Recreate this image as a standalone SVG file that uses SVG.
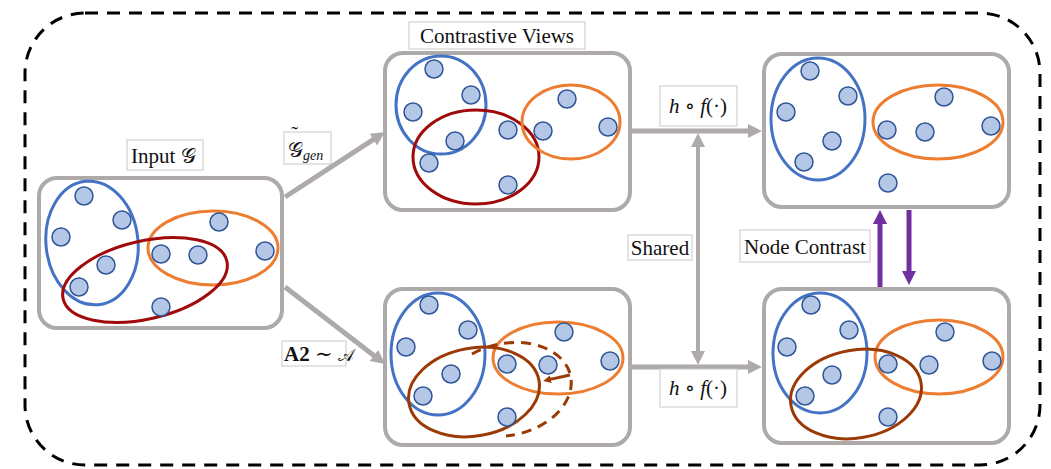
<svg xmlns="http://www.w3.org/2000/svg" width="1051" height="469" viewBox="0 0 1051 469">
  <style>
    .frame { fill: none; stroke: #000; stroke-width: 3; stroke-dasharray: 13 9; }
    .box { fill: #fff; stroke: #AEAAAA; stroke-width: 4; }
    .nd { fill: #B4C7E7; stroke: #2F5597; stroke-width: 1.5; }
    .blue { fill: none; stroke: #4472C4; stroke-width: 3; }
    .orange { fill: none; stroke: #ED7D31; stroke-width: 3; }
    .red { fill: none; stroke: #A00A0A; stroke-width: 3; }
    .brown { fill: none; stroke: #9C3A06; stroke-width: 3; }
    .lbl { fill: #fff; stroke: #C8C8C8; stroke-width: 1; }
    .t { font-family: "Liberation Serif", "DejaVu Serif", serif; font-size: 21px; fill: #111; }
    .it { font-style: italic; }
    .scr { font-family: "DejaVu Serif", "Noto Sans", serif; }
    .gray { stroke: #AEAAAA; stroke-width: 5; fill: none; }
    .purple { stroke: #7030A0; stroke-width: 5; fill: none; }
  </style>
  <defs>
    <marker id="headGray" markerUnits="userSpaceOnUse" markerWidth="16" markerHeight="16" refX="4" refY="7" orient="auto-start-reverse">
      <path d="M0,0 L14,7 L0,14 z" fill="#AEAAAA"/>
    </marker>
    <marker id="headPurple" markerUnits="userSpaceOnUse" markerWidth="16" markerHeight="16" refX="4" refY="7" orient="auto">
      <path d="M0,0 L14,7 L0,14 z" fill="#7030A0"/>
    </marker>
    <marker id="headBrown" markerUnits="userSpaceOnUse" markerWidth="10" markerHeight="10" refX="2" refY="4" orient="auto">
      <path d="M0,0 L8,4 L0,8 z" fill="#9C3A06"/>
    </marker>
  </defs>

  <!-- dashed outer frame -->
  <rect class="frame" x="25" y="13" width="1015" height="452" rx="60" ry="60"/>

  <!-- connectors -->
  <g id="connectors">
    <line class="gray" x1="285" y1="197" x2="376.6" y2="137.4" marker-end="url(#headGray)"/>
    <line class="gray" x1="285" y1="287" x2="377.1" y2="357.9" marker-end="url(#headGray)"/>
    <line class="gray" x1="630" y1="131" x2="752" y2="131" marker-end="url(#headGray)"/>
    <line class="gray" x1="630" y1="367" x2="752" y2="367" marker-end="url(#headGray)"/>
    <line class="gray" style="stroke-width:4" x1="698" y1="143" x2="698" y2="355" marker-start="url(#headGray)" marker-end="url(#headGray)"/>
    <line class="purple" x1="880" y1="288" x2="880" y2="220" marker-end="url(#headPurple)"/>
    <line class="purple" x1="909" y1="210" x2="909" y2="275" marker-end="url(#headPurple)"/>
  </g>

  <!-- input graph -->
  <g id="input">
    <rect class="box" x="39" y="178" width="243" height="150" rx="18"/>
    <ellipse class="blue" cx="92" cy="243" rx="46" ry="62" transform="rotate(-6 92 243)"/>
    <ellipse class="orange" cx="213" cy="248" rx="65" ry="37"/>
    <ellipse class="red" cx="145" cy="280" rx="84" ry="39" transform="rotate(-13 145 280)"/>
    <circle class="nd" cx="84" cy="196" r="9"/>
    <circle class="nd" cx="122" cy="220" r="9"/>
    <circle class="nd" cx="61" cy="237" r="9"/>
    <circle class="nd" cx="106" cy="265" r="9"/>
    <circle class="nd" cx="79" cy="287" r="9"/>
    <circle class="nd" cx="161" cy="254" r="9"/>
    <circle class="nd" cx="198" cy="255" r="9"/>
    <circle class="nd" cx="219" cy="222" r="9"/>
    <circle class="nd" cx="265" cy="251" r="9"/>
    <circle class="nd" cx="161" cy="307" r="9"/>
  </g>

  <!-- augmented view (generator) -->
  <g id="view-gen">
    <rect class="box" x="385" y="53" width="245" height="157" rx="18"/>
    <ellipse class="blue" cx="441" cy="105" rx="45" ry="49"/>
    <ellipse class="red" cx="476" cy="157" rx="63" ry="47"/>
    <ellipse class="orange" cx="571" cy="122" rx="49" ry="37"/>
    <circle class="nd" cx="434" cy="69" r="9"/>
    <circle class="nd" cx="471" cy="95" r="9"/>
    <circle class="nd" cx="413" cy="112" r="9"/>
    <circle class="nd" cx="455" cy="141" r="9"/>
    <circle class="nd" cx="429" cy="163" r="9"/>
    <circle class="nd" cx="508" cy="130" r="9"/>
    <circle class="nd" cx="508" cy="185" r="9"/>
    <circle class="nd" cx="543" cy="131" r="9"/>
    <circle class="nd" cx="567" cy="99" r="9"/>
    <circle class="nd" cx="608" cy="127" r="9"/>
  </g>

  <!-- augmented view (sampled) -->
  <g id="view-sampled">
    <rect class="box" x="385" y="289" width="245" height="156" rx="18"/>
    <ellipse class="blue" cx="438" cy="354" rx="47" ry="61"/>
    <ellipse class="orange" cx="558" cy="358" rx="65" ry="36"/>
    <ellipse class="brown" cx="474" cy="392" rx="66" ry="44" transform="rotate(-10 474 392)"/>
    <path class="brown" d="M472,354 A65 46 -12 1 1 506,436" stroke-dasharray="10 7"/>
    <line class="brown" x1="570" y1="375" x2="549" y2="379.6" stroke-width="2.5" marker-end="url(#headBrown)"/>
    <circle class="nd" cx="429" cy="305" r="9"/>
    <circle class="nd" cx="468" cy="330" r="9"/>
    <circle class="nd" cx="406" cy="347" r="9"/>
    <circle class="nd" cx="451" cy="374" r="9"/>
    <circle class="nd" cx="423" cy="396" r="9"/>
    <circle class="nd" cx="507" cy="364" r="9"/>
    <circle class="nd" cx="548" cy="365" r="9"/>
    <circle class="nd" cx="564" cy="332" r="9"/>
    <circle class="nd" cx="610" cy="361" r="9"/>
    <circle class="nd" cx="507" cy="417" r="9"/>
  </g>

  <!-- encoded view (top) -->
  <g id="embed-top">
    <rect class="box" x="764" y="54" width="245" height="153" rx="18"/>
    <ellipse class="blue" cx="818" cy="119" rx="47" ry="61"/>
    <ellipse class="orange" cx="938" cy="122" rx="65" ry="37"/>
    <circle class="nd" cx="810" cy="71" r="9"/>
    <circle class="nd" cx="848" cy="96" r="9"/>
    <circle class="nd" cx="786" cy="112" r="9"/>
    <circle class="nd" cx="832" cy="141" r="9"/>
    <circle class="nd" cx="804" cy="162" r="9"/>
    <circle class="nd" cx="887" cy="130" r="9"/>
    <circle class="nd" cx="925" cy="132" r="9"/>
    <circle class="nd" cx="944" cy="97" r="9"/>
    <circle class="nd" cx="991" cy="126" r="9"/>
    <circle class="nd" cx="888" cy="183" r="9"/>
  </g>

  <!-- encoded view (bottom) -->
  <g id="embed-bottom">
    <rect class="box" x="764" y="289" width="245" height="154" rx="18"/>
    <ellipse class="blue" cx="820" cy="353" rx="47" ry="60"/>
    <ellipse class="orange" cx="939" cy="357" rx="64" ry="37"/>
    <ellipse class="brown" cx="856" cy="394" rx="66" ry="44" transform="rotate(-10 856 394)"/>
    <circle class="nd" cx="811" cy="305" r="9"/>
    <circle class="nd" cx="849" cy="330" r="9"/>
    <circle class="nd" cx="787" cy="347" r="9"/>
    <circle class="nd" cx="832" cy="375" r="9"/>
    <circle class="nd" cx="805" cy="396" r="9"/>
    <circle class="nd" cx="888" cy="364" r="9"/>
    <circle class="nd" cx="929" cy="365" r="9"/>
    <circle class="nd" cx="945" cy="332" r="9"/>
    <circle class="nd" cx="992" cy="361" r="9"/>
    <circle class="nd" cx="888" cy="417" r="9"/>
  </g>

  <!-- labels -->
  <g id="label-input">
    <rect class="lbl" x="127" y="140" width="76" height="30"/>
    <text class="t" x="131" y="163">Input <tspan class="scr" font-size="21">𝒢</tspan></text>
  </g>
  <g id="label-views">
    <rect class="lbl" x="409" y="22" width="176" height="27"/>
    <text class="t" x="497" y="43" text-anchor="middle">Contrastive Views</text>
  </g>
  <g id="label-gen">
    <rect class="lbl" x="284" y="132" width="47" height="32"/>
    <text class="t" x="291" y="141" font-size="14">˜</text>
    <text class="t" x="288" y="157" font-size="18"><tspan class="scr">𝒢</tspan><tspan class="it" font-size="14" dy="3">gen</tspan></text>
  </g>
  <g id="label-a2">
    <rect class="lbl" x="282" y="341" width="64" height="25"/>
    <text class="t" x="284" y="361" font-size="17"><tspan font-weight="bold">A2</tspan> ∼ <tspan class="scr" font-size="17">𝒜</tspan></text>
  </g>
  <g id="label-enc-top">
    <rect class="lbl" x="660" y="86" width="77" height="40"/>
    <text class="t" x="698" y="113" text-anchor="middle"><tspan class="it">h</tspan> ∘ <tspan class="it">f</tspan>(·)</text>
  </g>
  <g id="label-enc-bottom">
    <rect class="lbl" x="660" y="369" width="77" height="38"/>
    <text class="t" x="698" y="395" text-anchor="middle"><tspan class="it">h</tspan> ∘ <tspan class="it">f</tspan>(·)</text>
  </g>
  <g id="label-shared">
    <rect class="lbl" x="628" y="235" width="64" height="25"/>
    <text class="t" x="660" y="255" text-anchor="middle">Shared</text>
  </g>
  <g id="label-contrast">
    <rect class="lbl" x="740" y="230" width="130" height="32"/>
    <text class="t" x="805" y="254" text-anchor="middle">Node Contrast</text>
  </g>
</svg>
